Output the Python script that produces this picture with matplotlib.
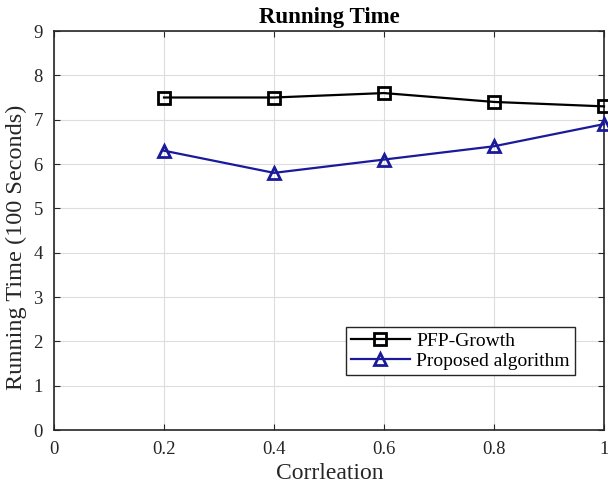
import matplotlib
matplotlib.use("Agg")
import matplotlib.pyplot as plt

x = [0.2, 0.4, 0.6, 0.8, 1.0]
pfp = [7.5, 7.5, 7.6, 7.4, 7.3]
proposed = [6.3, 5.8, 6.1, 6.4, 6.9]
xticks = [0, 0.2, 0.4, 0.6, 0.8, 1]
xticklabels = ["0", "0.2", "0.4", "0.6", "0.8", "1"]
yticks = list(range(0, 10))

plt.rcParams['font.family'] = ['Liberation Serif', 'DejaVu Serif']

fig = plt.figure(figsize=(6.08, 4.86), dpi=100)
ax = fig.add_axes([54/608, 56/486, 550/608, 399/486])

ax.plot(x, pfp, color='black', marker='s', markersize=8, markerfacecolor='none',
        markeredgewidth=2, linewidth=1.6, label='PFP-Growth', clip_on=False, zorder=3)
ax.plot(x, proposed, color='#1a1a9a', marker='^', markersize=8, markerfacecolor='none',
        markeredgewidth=2, linewidth=1.6, label='Proposed algorithm', clip_on=False, zorder=3)

ax.set_xlim(0, 1)
ax.set_ylim(0, 9)
ax.set_xticks(xticks)
ax.set_xticklabels(xticklabels)
ax.set_yticks(yticks)
ax.tick_params(direction='in', top=True, right=True, labelsize=13.5, length=4,
               colors='#262626')
ax.tick_params(axis='x', pad=8)
ax.tick_params(axis='y', pad=8)
ax.grid(True, color='#dddddd', linewidth=0.8)
ax.set_axisbelow(True)
for s in ax.spines.values():
    s.set_linewidth(1.2)
    s.set_color('#262626')

ax.set_title('Running Time', fontsize=16.5, fontweight='bold', pad=6)
ax.set_xlabel('Corrleation', fontsize=17, color='#262626')
ax.xaxis.set_label_coords(330/550 - 54/550, -(473-430)/399)
ax.set_ylabel('Running Time (100 Seconds)', fontsize=17.5, color='#262626')
ax.yaxis.set_label_coords(-(54-16)/550, (430-247)/399)
ax.xaxis.label.set_va('center')
ax.yaxis.label.set_va('center')

leg = ax.legend(loc='lower right', bbox_to_anchor=(0.947, 0.138), fontsize=14,
                frameon=True, fancybox=False, edgecolor='#262626', framealpha=1,
                borderpad=0.25, labelspacing=0.15, handlelength=3.0,
                handletextpad=0.35, borderaxespad=0)
leg.get_frame().set_linewidth(1.0)

fig.savefig('out.png', dpi=100)
